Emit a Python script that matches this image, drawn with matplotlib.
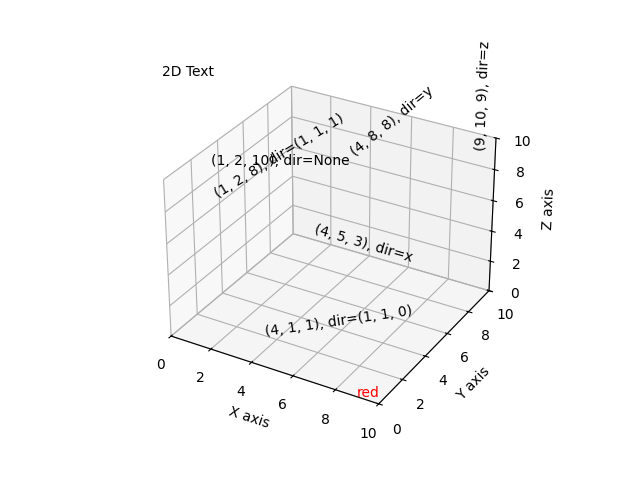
import matplotlib
matplotlib.use("Agg")
import matplotlib.pyplot as plt

# text anchors and their direction settings
zdirs = [None, 'x', 'y', 'z', (1, 1, 0), (1, 1, 1)]
xs = [1, 4, 4, 9, 4, 1]
ys = [2, 5, 8, 10, 1, 2]
zs = [10, 3, 8, 9, 1, 8]

red_pos = (9, 0, 0)
red_label = "red"
title_2d = "2D Text"

fig = plt.figure(figsize=(6.4, 4.8), dpi=100)
ax = fig.add_subplot(projection='3d')

for zdir, x, y, z in zip(zdirs, xs, ys, zs):
    label = '(%d, %d, %d), dir=%s' % (x, y, z, zdir)
    ax.text(x, y, z, label, zdir)

ax.text(*red_pos, red_label, color='red')
ax.text2D(0.05, 0.95, title_2d, transform=ax.transAxes)

ax.set_xlim(0, 10)
ax.set_ylim(0, 10)
ax.set_zlim(0, 10)
ax.set_xlabel('X axis')
ax.set_ylabel('Y axis')
ax.set_zlabel('Z axis')

fig.savefig("out.png", dpi=100)
